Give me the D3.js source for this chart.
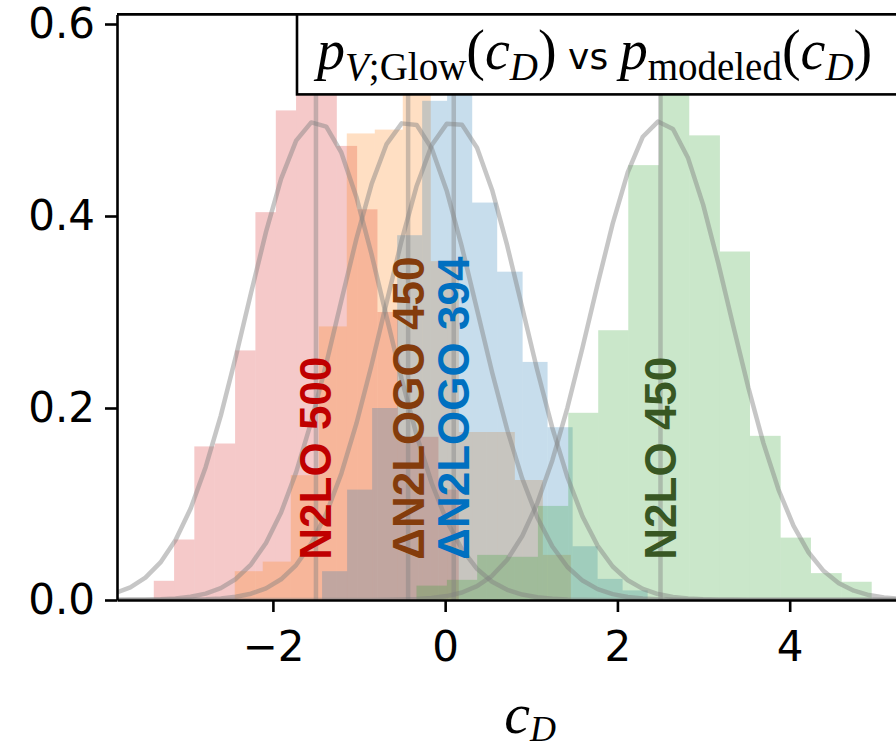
<!DOCTYPE html>
<html>
<head>
<meta charset="utf-8">
<script src="https://cdn.jsdelivr.net/npm/d3@7"></script>
<style>
  body { margin: 0; background: #fff; }
  svg { display: block; }
</style>
</head>
<body>
<svg width="896" height="750"></svg>
<script>
// histogram bin edges (c_D) and densities
var redEdges = [-3.383, -3.147, -2.912, -2.675, -2.439, -2.203, -1.966, -1.731, -1.495, -1.258, -1.022, -0.786, -0.549, -0.314, -0.078, 0.158];
var redDens = [0.020, 0.063, 0.160, 0.163, 0.260, 0.404, 0.510, 0.600, 0.580, 0.473, 0.407, 0.300, 0.170, 0.170, 0.115];

var orangeEdges = [-2.443, -2.118, -1.792, -1.467, -1.142, -0.817, -0.492, -0.167, 0.159, 0.484, 0.809, 1.134, 1.459];
var orangeDens = [0.030, 0.040, 0.130, 0.285, 0.486, 0.490, 0.580, 0.353, 0.175, 0.175, 0.125, 0.047];

var blueEdges = [-1.429, -1.138, -0.848, -0.557, -0.267, 0.023, 0.314, 0.604, 0.899, 1.189, 1.480, 1.770, 2.060, 2.351];
var blueDens = [0.030, 0.115, 0.200, 0.380, 0.520, 0.600, 0.414, 0.342, 0.248, 0.180, 0.056, 0.022, 0.010];

var greenEdges = [-0.333, 0.020, 0.372, 0.725, 1.077, 1.429, 1.777, 2.126, 2.482, 2.834, 3.190, 3.539, 3.895, 4.247, 4.604, 4.952];
var greenDens = [0.015, 0.021, 0.047, 0.045, 0.098, 0.195, 0.281, 0.453, 0.570, 0.484, 0.363, 0.171, 0.065, 0.028, 0.019];

// modeled gaussians
var names = ["N2LO 500", "\u0394N2LOGO 450", "\u0394N2LOGO 394", "N2LO 450"];
var means = [-1.50, -0.43, 0.10, 2.50];
var sigmas = [0.80, 0.80, 0.80, 0.80];

var xTicks = [-2, 0, 2, 4];
var yTicks = [0.0, 0.2, 0.4, 0.6];

var histFill = ["#d62728", "#ff7f0e", "#1f77b4", "#2ca02c"];
var labelCol = ["#c00000", "#843c0c", "#0070c0", "#385723"];

var svg = d3.select("svg");

var x = d3.scaleLinear().domain([-3.81, 5.78]).range([117, 943]);
var y = d3.scaleLinear().domain([0, 0.61]).range([600, 14.4]);

svg.append("defs").append("clipPath").attr("id", "plot")
  .append("rect")
    .attr("x", x.range()[0]).attr("y", y.range()[1])
    .attr("width", x.range()[1] - x.range()[0])
    .attr("height", y.range()[0] - y.range()[1]);

var plot = svg.append("g").attr("clip-path", "url(#plot)");

var hists = [
  {edges: redEdges, dens: redDens},
  {edges: orangeEdges, dens: orangeDens},
  {edges: blueEdges, dens: blueDens},
  {edges: greenEdges, dens: greenDens}
];

hists.forEach(function(h, k) {
  plot.append("g")
    .selectAll("rect")
    .data(h.dens)
    .enter().append("rect")
      .attr("x", function(d, i) { return x(h.edges[i]); })
      .attr("width", function(d, i) { return x(h.edges[i + 1]) - x(h.edges[i]); })
      .attr("y", function(d) { return y(d); })
      .attr("height", function(d) { return y(0) - y(d); })
      .attr("fill", histFill[k])
      .attr("fill-opacity", 0.25);
});

// model curves, sampled coarsely like the original
var grid = d3.range(-3.83, 5.8, 0.175);
var line = d3.line()
  .x(function(d) { return x(d[0]); })
  .y(function(d) { return y(d[1]); });

means.forEach(function(m, k) {
  var s = sigmas[k];
  var pts = grid.map(function(t) {
    return [t, Math.exp(-0.5 * Math.pow((t - m) / s, 2)) / (s * Math.sqrt(2 * Math.PI))];
  });
  plot.append("path")
    .attr("d", line(pts))
    .attr("fill", "none")
    .attr("stroke", "#808080")
    .attr("stroke-opacity", 0.45)
    .attr("stroke-width", 4.5)
    .attr("stroke-linejoin", "round");
  plot.append("line")
    .attr("x1", x(m)).attr("x2", x(m))
    .attr("y1", y(0)).attr("y2", y(0.61))
    .attr("stroke", "#808080")
    .attr("stroke-opacity", 0.42)
    .attr("stroke-width", 4.5);
});

// rotated labels on the mean lines
plot.selectAll("text.lab")
  .data(names)
  .enter().append("text")
    .attr("class", "lab")
    .attr("transform", function(d, i) { return "translate(" + x(means[i]) + "," + y(0.042) + ") rotate(-90)"; })
    .attr("dominant-baseline", "central")
    .attr("font-family", "Liberation Sans, Arial, sans-serif")
    .attr("font-weight", "bold")
    .attr("font-size", 44)
    .attr("fill", function(d, i) { return labelCol[i]; })
    .text(function(d) { return d; });

// axes
var fmtX = function(d) { return d < 0 ? "\u2212" + Math.abs(d) : d; };
var gx = svg.append("g")
  .attr("transform", "translate(0," + y(0) + ")")
  .call(d3.axisBottom(x).tickValues(xTicks).tickFormat(fmtX).tickSize(12).tickSizeOuter(0).tickPadding(19));
var gy = svg.append("g")
  .attr("transform", "translate(" + x.range()[0] + ",0)")
  .call(d3.axisLeft(y).tickValues(yTicks).tickFormat(d3.format(".1f")).tickSize(12).tickSizeOuter(0).tickPadding(10));

[gx, gy].forEach(function(g) {
  g.select(".domain").attr("stroke", "#000").attr("stroke-width", 2.6);
  g.selectAll(".tick line").attr("stroke", "#000").attr("stroke-width", 2.6);
  g.selectAll(".tick text")
    .attr("font-family", "DejaVu Sans, sans-serif")
    .attr("font-size", 42)
    .attr("fill", "#000");
});

svg.append("line")
  .attr("x1", x.range()[0]).attr("x2", x.range()[1])
  .attr("y1", y.range()[1]).attr("y2", y.range()[1])
  .attr("stroke", "#000").attr("stroke-width", 2.6);

// legend box
svg.append("rect")
  .attr("x", 297).attr("y", y.range()[1])
  .attr("width", x.range()[1] - 297).attr("height", 80)
  .attr("fill", "#fff")
  .attr("stroke", "#000").attr("stroke-width", 2.6);

var serif = "Liberation Serif, Times New Roman, serif";
var leg = svg.append("text")
  .attr("x", 317).attr("y", 69)
  .attr("font-family", serif)
  .attr("font-size", 56);

function part(t, opt) {
  var s = leg.append("tspan").text(t);
  if (opt.it) s.attr("font-style", "italic");
  if (opt.fs) s.attr("font-size", opt.fs);
  if (opt.dy) s.attr("dy", opt.dy);
  if (opt.ff) s.attr("font-family", opt.ff);
  return s;
}
part("p", {it: 1});
part("V", {it: 1, fs: 39, dy: 11});
part(";Glow", {fs: 39});
part("(", {dy: -11});
part("c", {it: 1});
part("D", {it: 1, fs: 39, dy: 11});
part(")", {dy: -11});
part(" vs ", {fs: 36, ff: "DejaVu Sans, sans-serif"});
part("p", {it: 1});
part("modeled", {fs: 39, dy: 11});
part("(", {dy: -11});
part("c", {it: 1});
part("D", {it: 1, fs: 39, dy: 11});
part(")", {dy: -11});

// x axis label
var xl = svg.append("text")
  .attr("x", 530).attr("y", 733)
  .attr("text-anchor", "middle")
  .attr("font-family", serif)
  .attr("font-size", 58);
xl.append("tspan").attr("font-style", "italic").text("c");
xl.append("tspan").attr("font-style", "italic").attr("font-size", 36).attr("dy", 8).text("D");
</script>
</body>
</html>
